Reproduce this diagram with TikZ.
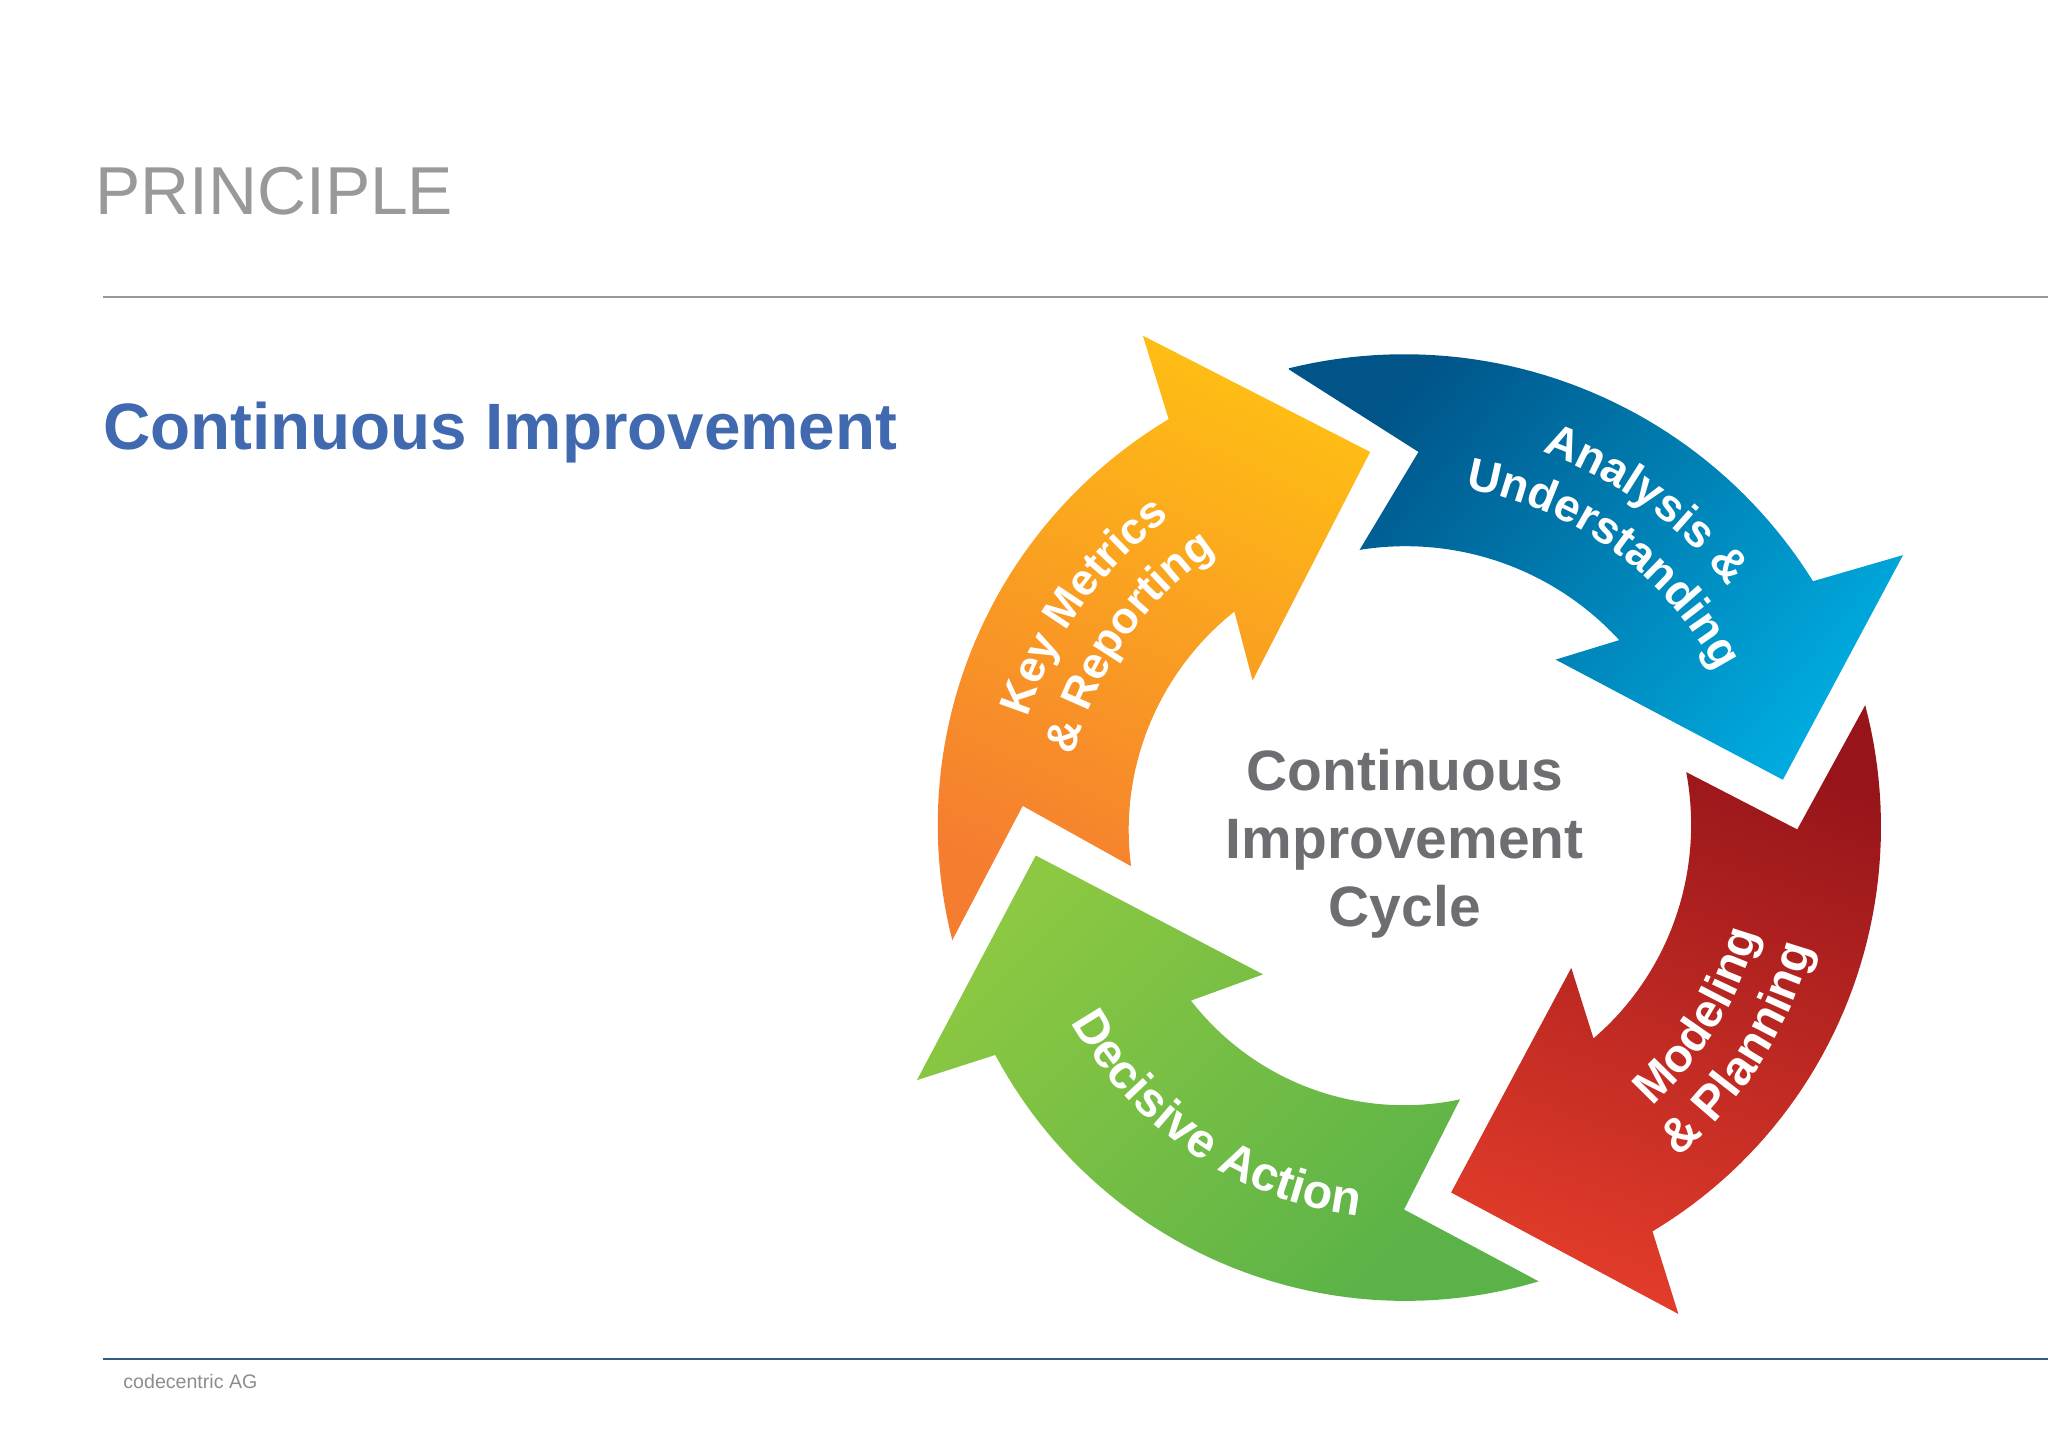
\documentclass[tikz,border=0pt]{standalone}
\usepackage{fontspec}
\setmainfont{Liberation Sans}
\usetikzlibrary{decorations.text,calc}
\definecolor{headgrey}{HTML}{999999}
\definecolor{headblue}{HTML}{4169AF}
\definecolor{footgrey}{HTML}{8C8C8C}
\definecolor{midgrey}{HTML}{6D6E71}
\definecolor{rulegrey}{HTML}{999999}
\definecolor{ruleblue}{HTML}{2F5B85}
\definecolor{orA}{RGB}{254,190,20}
\definecolor{orB}{RGB}{245,125,48}
\definecolor{blA}{RGB}{0,84,136}
\definecolor{blB}{RGB}{0,170,222}
\definecolor{reA}{RGB}{150,20,26}
\definecolor{reB}{RGB}{226,60,42}
\definecolor{grA}{RGB}{140,200,66}
\definecolor{grM}{RGB}{104,184,72}
\definecolor{grB}{RGB}{90,178,72}
\newcommand{\labfont}[1]{\fontsize{#1}{#1}\selectfont\bfseries\color{white}}
% radius interpolated between (a0,r0) and (a1,r1) at angle \t
\newcommand{\rr}[4]{(#2+(#4-#2)*(\t-#1)/(#3-#1))}
\tikzset{
  x=1pt,y=1pt,
  plain/.style={inner sep=0pt,outer sep=0pt,anchor=base west},
  centretext/.style={plain,anchor=base,text=midgrey,font=\fontsize{43.6}{44}\selectfont\bfseries},
  sweep/.style={samples=50,variable=\t},
}
\begin{document}
\begin{tikzpicture}
\useasboundingbox (0,-1108.6) rectangle (1568,0);
\coordinate (C) at (1076,-640);
\node[plain,text=headgrey,font=\fontsize{51.9}{52}\selectfont] (title) at (73,-164) {PRINCIPLE};
\node[plain,text=headblue,font=\fontsize{50.2}{52}\selectfont\bfseries] (sub) at (79,-344) {Continuous Improvement};
\node[plain,text=footgrey,font=\fontsize{15}{16}\selectfont] (foot) at (94.5,-1063) {codecentric AG};
\coordinate (r1a) at (79,-227.3);\coordinate (r1b) at (1568,-227.3);
\coordinate (r2a) at (79,-1040.3);\coordinate (r2b) at (1568,-1040.3);
\draw[rulegrey,line width=1.3pt] (r1a)--(r1b);
\draw[ruleblue,line width=1.5pt] (r2a)--(r2b);
% orange
\shade[top color=orA,bottom color=orB,shading angle=-25]
 (875,-257)--(1049,-346)--(959,-521)--(945,-468)
 --plot[sweep,domain=127.3:186.3] ({1076+\rr{127.3}{216}{186.3}{211.3}*cos(\t)},{-640+\rr{127.3}{216}{186.3}{211.3}*sin(\t)})
 --(783,-617)--(729,-720)
 --plot[sweep,domain=193:119.6] ({1076+\rr{193}{356}{119.6}{367}*cos(\t)},{-640+\rr{193}{356}{119.6}{367}*sin(\t)})
 --cycle;
% blue
\shade[top color=blA,bottom color=blB,shading angle=50]
 (987,-283)
 --plot[sweep,domain=104:32] ({1076+\rr{104}{369}{32}{368}*cos(\t)},{-640+\rr{104}{369}{32}{368}*sin(\t)})
 --(1457,-425)--(1365,-597)--(1191,-505)--(1240,-490)
 --plot[sweep,domain=42.4:99.1] ({1076+\rr{42.4}{222}{99.1}{221.8}*cos(\t)},{-640+\rr{42.4}{222}{99.1}{221.8}*sin(\t)})
 --(1086,-346)--cycle;
% red
\shade[top color=reA,bottom color=reB,shading angle=-20]
 (1428,-540)
 --plot[sweep,domain=15.9:-58] ({1076+\rr{15.9}{366}{-58}{357}*cos(\t)},{-640+\rr{15.9}{366}{-58}{357}*sin(\t)})
 --(1285,-1006)--(1111,-913)--(1203,-741)--(1220,-795)
 --plot[sweep,domain=-47.1:12.8] ({1076+\rr{-47.1}{211.6}{12.8}{220.5}*cos(\t)},{-640+\rr{-47.1}{211.6}{12.8}{220.5}*sin(\t)})
 --(1376,-635)--cycle;
% green
\shade[top color=grA,middle color=grM,bottom color=grB,shading angle=45]
 (793,-655)--(967,-746)--(912,-766)
 --plot[sweep,domain=217.5:281.7] ({1076+\rr{217.5}{207}{281.7}{206}*cos(\t)},{-640+\rr{217.5}{207}{281.7}{206}*sin(\t)})
 --(1075,-926)--(1178,-981)
 --plot[sweep,domain=286.7:208.1] ({1076+\rr{286.7}{356}{208.1}{356}*cos(\t)},{-640+\rr{286.7}{356}{208.1}{356}*sin(\t)})
 --(702,-827)--cycle;
% centre text
\node[centretext] (c1) at (1075.5,-605) {Continuous};
\node[centretext] (c2) at (1075.5,-657) {Improvement};
\node[centretext] (c3) at (1075.5,-709) {Cycle};
% labels along arcs
\path[decorate,decoration={text along path,text align=center,text={|\labfont{35}|Analysis {\&}}}]
  ($(C)+(114:312)$) arc[start angle=114,end angle=-6,radius=312];
\path[decorate,decoration={text along path,text align=center,text={|\labfont{35}|Understanding}}]
  ($(C)+(114:270)$) arc[start angle=114,end angle=-6,radius=270];
\path[decorate,decoration={text along path,text align=center,text={|\labfont{34}|Key Metrics}}]
  ($(C)+(204.5:303)$) arc[start angle=204.5,end angle=84.5,radius=303];
\path[decorate,decoration={text along path,text align=center,text={|\labfont{34}|{\&} Reporting}}]
  ($(C)+(205:261)$) arc[start angle=205,end angle=85,radius=261];
\path[decorate,decoration={text along path,text align=center,text={|\labfont{36}|Modeling}}]
  ($(C)+(-91.5:280)$) arc[start angle=-91.5,end angle=28.5,radius=280];
\path[decorate,decoration={text along path,text align=center,text={|\labfont{37}|{\&} Planning}}]
  ($(C)+(-92.5:323)$) arc[start angle=-92.5,end angle=27.5,radius=323];
\path[decorate,decoration={text along path,text align=center,text={|\labfont{37}|Decisive Action}}]
  ($(C)+(176:293)$) arc[start angle=176,end angle=296,radius=293];
\end{tikzpicture}
\end{document}
